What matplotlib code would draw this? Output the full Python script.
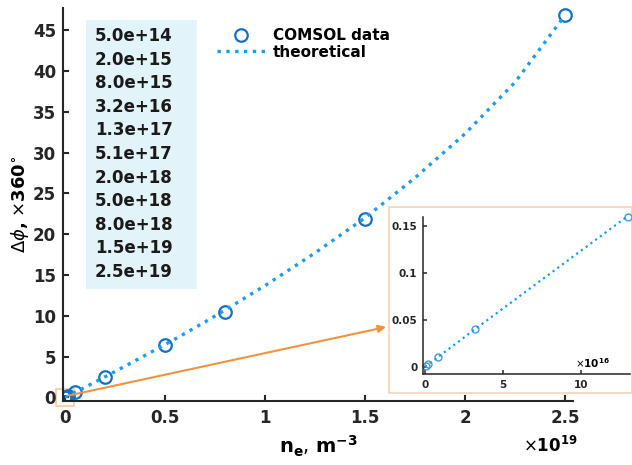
import matplotlib
matplotlib.use("Agg")
import matplotlib.pyplot as plt
from matplotlib.patches import Rectangle

plt.rcParams["font.family"] = ["DejaVu Sans"]
plt.rcParams["mathtext.fontset"] = "dejavusans"

# COMSOL simulation points (electron density in m^-3, phase shift in units of 360 deg)
n_e = [5.0e14, 2.0e15, 8.0e15, 3.2e16, 1.3e17, 5.1e17, 2.0e18, 5.0e18, 8.0e18, 1.5e19, 2.5e19]
dphi_comsol = [0.0006, 0.0025, 0.0099, 0.040, 0.160, 0.65, 2.55, 6.4, 10.5, 21.8, 46.8]

# theoretical curve
n_theory = [0, 5.0e14, 2.0e15, 8.0e15, 3.2e16, 1.3e17, 5.1e17, 1.0e18, 2.0e18, 3.0e18, 4.0e18,
            5.0e18, 6.0e18, 7.0e18, 8.0e18, 1.0e19, 1.25e19, 1.5e19, 1.75e19, 2.0e19, 2.25e19, 2.5e19]
dphi_theory = [0, 0.0006, 0.0025, 0.0099, 0.040, 0.161, 0.64, 1.25, 2.53, 3.83, 5.15,
               6.48, 7.85, 9.25, 10.7, 13.7, 17.7, 22.0, 26.9, 32.3, 38.6, 46.8]

x_ticks = [0, 0.5e19, 1.0e19, 1.5e19, 2.0e19, 2.5e19]
y_ticks = [0, 5, 10, 15, 20, 25, 30, 35, 40, 45]
inset_x_ticks = [0, 5e16, 10e16]
inset_y_ticks = [0, 0.05, 0.1, 0.15]

MARKER_COLOR = "#1470c4"
LINE_COLOR = "#1c9cf0"
ORANGE = "#f0923e"
W, H = 632, 465


def fig_box(x0, y0, x1, y1):
    # pixel box (top-left origin) -> figure fraction rect
    return [x0 / W, (H - y1) / H, (x1 - x0) / W, (y1 - y0) / H]


def style_axes(ax, size, lw):
    for side in ("top", "right"):
        ax.spines[side].set_visible(False)
    for side in ("left", "bottom"):
        ax.spines[side].set_color("#262626")
        ax.spines[side].set_linewidth(lw)
    ax.tick_params(direction="in", length=4, width=lw, colors="#262626", labelsize=size, pad=5)


def bold_ticks(ax):
    for lbl in ax.get_xticklabels() + ax.get_yticklabels():
        lbl.set_fontweight("bold")


fig = plt.figure(figsize=(W / 100, H / 100), dpi=100)
ax = fig.add_axes(fig_box(63, 8, 573, 401))
style_axes(ax, 12, 1.5)
ax.tick_params(axis="x", pad=6)

ax.plot(n_e, dphi_comsol, "o", ms=9, mfc="none", mec=MARKER_COLOR, mew=1.6, label="COMSOL data")
ax.plot(n_theory, dphi_theory, ":", color=LINE_COLOR, lw=2.4, label="theoretical")
ax.set_xlim(-0.01e19, 2.54e19)
ax.set_ylim(-0.43, 47.7)
ax.set_xticks(x_ticks)
ax.set_xticklabels([f"{t / 1e19:g}" for t in x_ticks])
ax.set_yticks(y_ticks)
bold_ticks(ax)
ax.set_xlabel(r"$\mathbf{n_e}$, $\mathbf{m^{-3}}$", fontsize=14, labelpad=5)
ax.set_ylabel(r"$\Delta\phi$$\mathbf{,}$ $\times$$\mathbf{360^{\circ}}$", fontsize=13, labelpad=0)
ax.yaxis.set_label_coords(-0.062, 0.5)
fig.text(550 / W, (H - 446) / H, r"$\times$$\mathbf{10^{19}}$", fontsize=12, ha="center", va="center")

leg = ax.legend(loc="upper left", bbox_to_anchor=(217 / W, (H - 28) / H), bbox_transform=fig.transFigure,
                frameon=False, prop={"size": 11, "weight": "bold"}, handlelength=3.2, handletextpad=0.45,
                labelspacing=0.12, borderpad=0, borderaxespad=0)

# zoom marker around the origin and arrow to the inset
ax.add_patch(Rectangle((-0.045e19, -1.1), 0.09e19, 2.2, fill=False, ec="#f5c9a0", lw=1.2, clip_on=False))
ax.annotate("", xy=(386 / W, (H - 327) / H), xycoords="figure fraction", xytext=(0.02e19, 0.25),
            textcoords="data", arrowprops=dict(arrowstyle="-|>", color=ORANGE, lw=1.5, mutation_scale=11,
                                               shrinkA=0, shrinkB=0))

# density list box
fig.patches.append(Rectangle((86 / W, (H - 289) / H), 111 / W, 269 / H, transform=fig.transFigure,
                             fc="#e3f3fa", ec="none", zorder=0))
for i, val in enumerate(n_e):
    fig.text(95 / W, (H - 36 - 23.6 * i) / H, f"{val:.1e}", fontsize=12, fontweight="bold", va="center",
             ha="left", color="#1a1a1a")

# inset
fig.patches.append(Rectangle((389 / W, (H - 393) / H), (W - 389) / W, 186 / H, transform=fig.transFigure,
                             fc="white", ec="#f2d3b6", lw=1.2, zorder=1))
axin = fig.add_axes(fig_box(423, 217, 630, 374))
axin.set_zorder(2)
axin.patch.set_alpha(0)
style_axes(axin, 7.5, 1.1)
inset_n = [v for v in n_e if v <= 1.3e17]
axin.plot(inset_n, dphi_comsol[:len(inset_n)], "o", ms=5, mfc="none", mec="#3b9be6", mew=1, clip_on=False)
inset_nt = [v for v in n_theory if v <= 1.3e17]
axin.plot(inset_nt, dphi_theory[:len(inset_nt)], ":", color=LINE_COLOR, lw=1.6)
axin.set_xlim(-0.13e16, 13.1e16)
axin.set_ylim(-0.0078, 0.1595)
axin.set_xticks(inset_x_ticks)
axin.set_xticklabels([f"{t / 1e16:g}" for t in inset_x_ticks])
axin.set_yticks(inset_y_ticks)
axin.set_yticklabels([f"{t:g}" for t in inset_y_ticks])
bold_ticks(axin)
axin.tick_params(length=3, pad=4)
axin.text(0.82, 0.07, r"$\times$$\mathbf{10^{16}}$", transform=axin.transAxes, fontsize=7.5, ha="center",
          va="center")

fig.savefig("out.png", dpi=100)
